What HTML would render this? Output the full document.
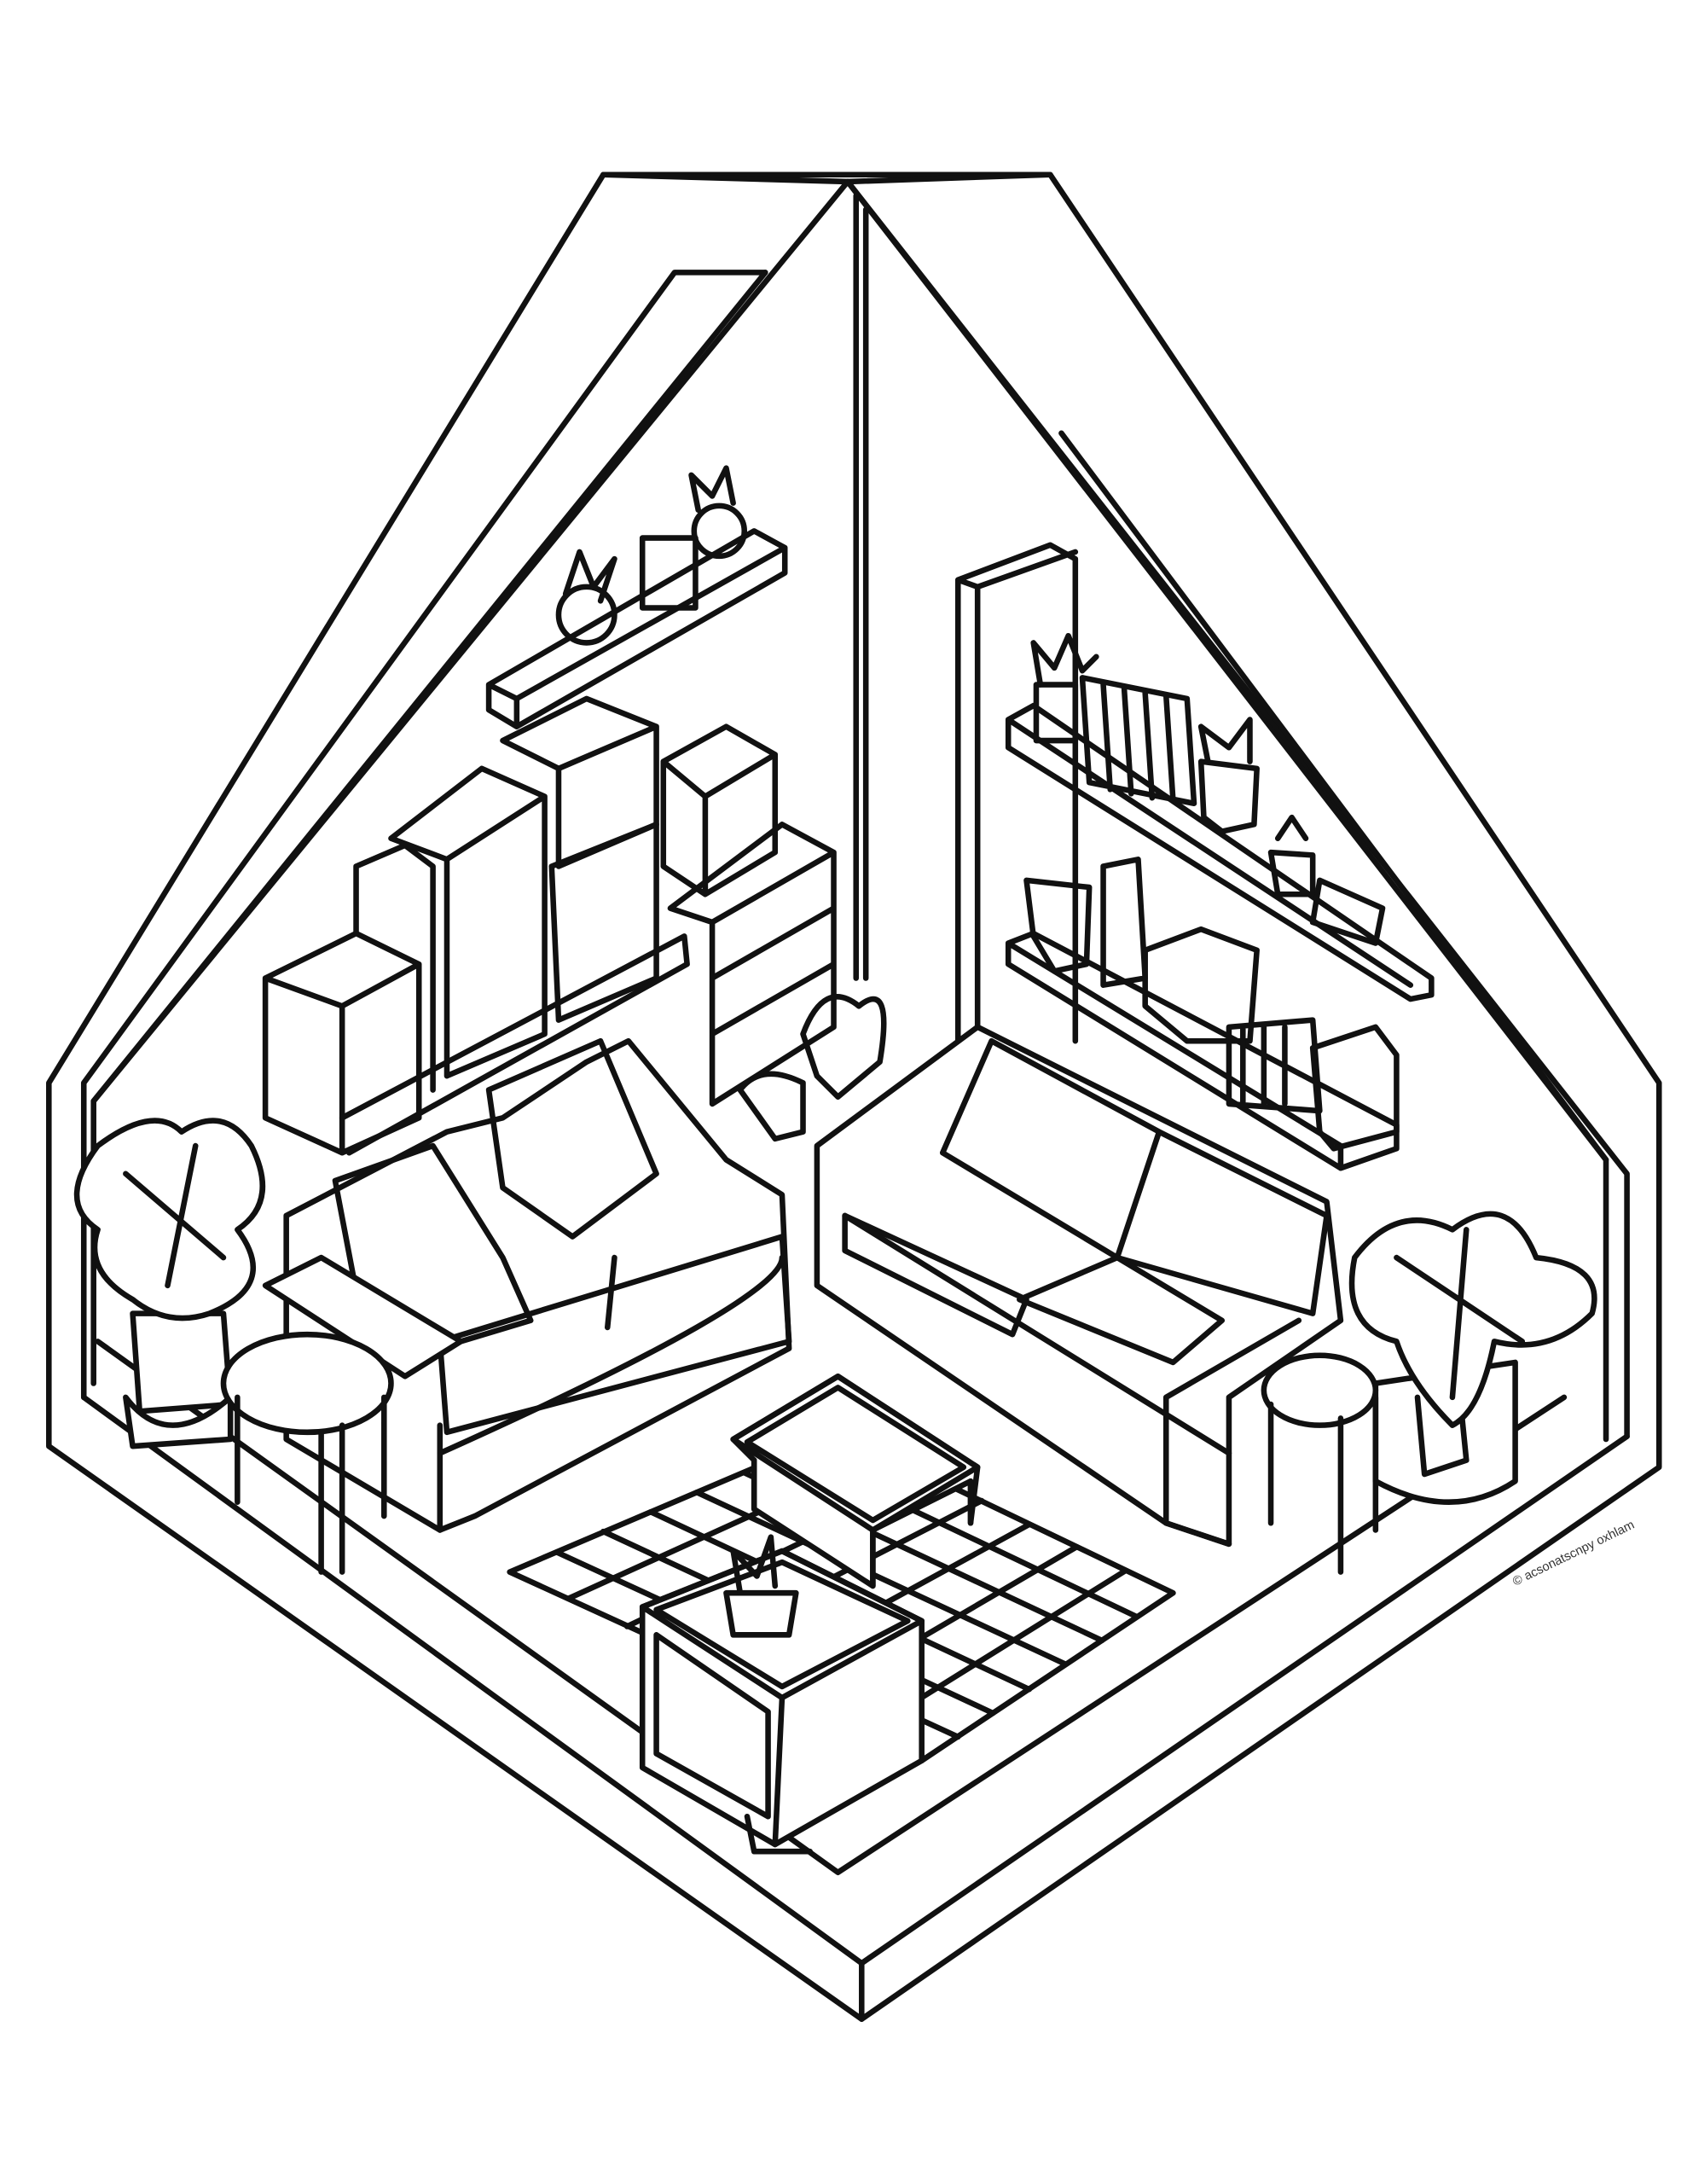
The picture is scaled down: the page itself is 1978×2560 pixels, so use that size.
<!DOCTYPE html>
<html><head><meta charset="utf-8"><style>
html,body{margin:0;padding:0;background:#fff;width:1978px;height:2560px;overflow:hidden}
svg{display:block}
</style></head><body>
<svg width="1978" height="2560" viewBox="0 0 1208 1563" preserveAspectRatio="none" xmlns="http://www.w3.org/2000/svg">
<g fill="none" stroke="#111" stroke-width="4" stroke-linejoin="round" stroke-linecap="round">
<!-- outer shell -->
<path d="M432 125 L752 125 L1188 775 L1188 1050 L617 1445 L35 1035 L35 775 Z"/>
<path d="M617 1405 L617 1445"/>
<path d="M60 1000 L617 1405 L1165 1028"/>
<path d="M60 1000 L60 775 L483 195 L548 195"/>
<path d="M67 990 L67 788 L548 195"/>
<path d="M607 130 L432 125 M607 130 L752 125"/>
<path d="M607 130 L67 788"/>
<path d="M607 130 L1150 830 L1150 1030"/>
<path d="M607 130 L1165 840 L1165 1028"/>
<path d="M613 140 L613 700 M620 150 L620 700"/>
<path d="M760 310 L1150 830"/>
<path d="M70 960 L600 1340 L1120 1000"/>
<!-- rug -->
<path d="M365 1125 L600 1025 L840 1140 L660 1260 Z"/>
<path d="M407 1144 L634 1041 M449 1164 L669 1058 M491 1183 L703 1074 M534 1202 L737 1091 M576 1221 L771 1107 M618 1241 L806 1124"/>
<path d="M399 1111 L686 1243 M432 1096 L711 1226 M466 1082 L737 1209 M499 1068 L763 1191 M533 1054 L789 1174 M566 1039 L814 1157"/>
<!-- left upper shelf -->
<path d="M350 490 L540 380 L562 392 L562 410 L370 520 L350 508 Z M350 490 L370 500 L562 392 M370 500 L370 520"/>
<circle cx="420" cy="440" r="20"/><path d="M405 425 L415 395 L425 420 L440 400 L430 430"/>
<rect x="460" y="385" width="38" height="50"/>
<circle cx="515" cy="380" r="18"/><path d="M500 365 L495 340 L510 355 L520 335 L525 360"/>
<!-- left cabinets -->
<path d="M190 700 L255 668 L300 690 L300 800 L245 825 L190 800 Z M245 720 L245 825 M190 700 L245 720 L300 690"/>
<path d="M255 668 L255 620 L290 605 L310 620 L310 780"/>
<path d="M280 600 L345 550 L390 570 L390 740 L320 770 L320 615 Z M280 600 L320 615 L390 570"/>
<path d="M360 530 L420 500 L470 520 L470 590 L400 620 L400 550 Z M360 530 L400 550 L470 520"/>
<path d="M395 620 L470 590 L470 700 L400 730 Z"/>
<path d="M245 800 L490 670 L492 690 L250 825"/>
<path d="M475 545 L520 520 L555 540 L555 610 L505 640 L475 620 Z M505 570 L505 640 M475 545 L505 570 L555 540"/>
<path d="M480 650 L560 590 L597 610 L597 735 L510 790 L510 660 Z M480 650 L510 660 L597 610 M510 700 L597 650 M510 740 L597 690"/>
<path d="M575 740 Q590 700 615 720 Q640 700 630 760 L600 785 L585 770 Z"/>
<path d="M530 780 Q545 760 575 775 L575 810 L555 815 Z"/>
<!-- column -->
<path d="M686 415 L752 390 L770 400 L770 745 M686 415 L686 750 M700 420 L700 760 M686 415 L700 420 L770 395"/>
<!-- right shelves -->
<path d="M722 515 L740 505 L1025 700 L1025 712 L1010 715 L722 535 Z M722 515 L1010 705"/>
<path d="M722 675 L740 668 L1000 805 L1000 822 L960 836 L722 690 Z M722 675 L960 820 L960 836"/>
<rect x="742" y="490" width="28" height="40"/><path d="M745 490 L740 460 L755 478 L765 455 L775 480 L785 470"/>
<path d="M775 485 L850 500 L855 575 L780 560 Z M790 490 L795 565 M805 493 L810 568 M820 496 L825 571 M835 498 L840 573"/>
<path d="M860 545 L900 550 L898 590 L875 595 L862 585 Z M865 545 L860 520 L880 535 L895 515 L895 545"/>
<path d="M910 610 L940 612 L940 640 L915 640 Z M915 600 L925 585 L935 600"/>
<path d="M945 630 L990 650 L985 675 L940 660 Z"/>
<path d="M735 630 L780 635 L778 690 L755 695 L740 670 Z M790 620 L815 615 L820 700 L790 705 Z"/>
<path d="M820 680 L860 665 L900 680 L895 745 L850 745 L820 720 Z"/>
<path d="M880 735 L940 730 L945 795 L880 790 Z M890 735 L890 790 M905 735 L905 790 M920 735 L920 790"/>
<path d="M940 750 L985 735 L1000 755 L1000 810 L955 822 L945 810 Z"/>
<!-- left sofa -->
<path fill="#fff" d="M205 870 L320 810 L360 800 L420 760 L450 745 L520 830 L560 855 L565 965 L340 1085 L315 1095 L205 1030 Z"/>
<path d="M240 845 L310 820 L360 900 L380 945 L330 960 L260 950 Z"/>
<path d="M350 780 L430 745 L470 840 L410 885 L360 850 Z"/>
<path d="M315 960 L560 885 L565 960 L320 1025 Z M435 950 L440 900"/>
<path d="M315 1040 Q560 930 560 900"/>
<path d="M315 1020 L315 1095"/>
<!-- left plant -->
<path fill="#fff" d="M95 940 L160 940 L165 1005 L100 1010 Z"/>
<path fill="#fff" d="M90 1000 Q120 1040 165 1000 L165 1030 L95 1035 Z"/>
<path fill="#fff" d="M70 820 Q110 790 130 810 Q160 790 180 820 Q200 860 170 880 Q200 920 150 940 Q120 950 95 930 Q60 910 70 880 Q40 860 70 820 Z"/>
<path d="M90 840 L160 900 M140 820 L120 920"/>
<!-- left stool -->
<path fill="#fff" d="M190 920 L230 900 L330 960 L290 985 Z"/>
<ellipse fill="#fff" cx="220" cy="990" rx="60" ry="35"/><path d="M170 1000 L170 1075 M275 1000 L275 1085 M230 1025 L230 1125 M245 1020 L245 1125"/>
<!-- right sofa -->
<path fill="#fff" d="M585 820 L700 735 L950 860 L960 945 L880 1000 L880 1105 L835 1090 L585 920 Z"/>
<path d="M675 825 L710 745 L830 810 L800 900 Z M800 900 L830 810 L950 870 L940 940 Z"/>
<path d="M605 870 L735 930 L725 955 L605 895 Z M730 930 L800 900 L875 945 L840 975 Z"/>
<path d="M605 870 L880 1040 M835 1000 L835 1090 L880 1105 M835 1000 L930 945"/>
<!-- right plant -->
<path fill="#fff" d="M985 990 L1085 975 L1085 1060 Q1040 1090 985 1060 Z"/>
<path d="M1015 1000 L1020 1055 L1050 1045 L1045 995"/>
<path fill="#fff" d="M970 900 Q1000 860 1040 880 Q1080 850 1100 900 Q1150 905 1140 940 Q1110 970 1070 960 Q1060 1010 1040 1020 Q1010 990 1000 960 Q960 950 970 900 Z"/>
<path d="M1000 900 L1090 960 M1050 880 L1040 1000"/>
<!-- right stool -->
<ellipse fill="#fff" cx="945" cy="995" rx="40" ry="25"/><path d="M910 1005 L910 1090 M960 1015 L960 1125 M985 1000 L985 1095"/>
<!-- coffee table -->
<path fill="#fff" d="M540 1045 L540 1080 L625 1135 L625 1095 L695 1060 L695 1090 L700 1050 L600 985 L525 1030 Z"/>
<path d="M525 1030 L600 985 L700 1050 L625 1095 Z M535 1032 L600 993 L690 1050 L625 1088 Z M540 1045 L540 1080 M625 1095 L625 1135 M695 1060 L695 1090"/>
<!-- cube table -->
<path fill="#fff" d="M460 1150 L560 1110 L660 1160 L660 1260 L555 1320 L460 1265 Z"/>
<path d="M460 1150 L560 1110 L660 1160 L560 1215 Z M470 1152 L560 1118 L650 1160 L560 1207 Z"/>
<path d="M560 1215 L555 1320 M470 1170 L470 1255 L550 1300 L550 1225 L470 1170 M535 1300 L540 1325 L580 1325"/>
<path fill="#fff" d="M520 1140 L570 1140 L565 1170 L525 1170 Z"/>
<path d="M530 1140 L525 1110 L542 1128 L552 1100 L555 1135"/>
</g>
<text x="1085" y="1135" font-family="Liberation Sans, sans-serif" font-size="9" fill="#333" transform="rotate(-26 1085 1135)">© acsonatscnpy oxhlam</text>
</svg>
</body></html>
